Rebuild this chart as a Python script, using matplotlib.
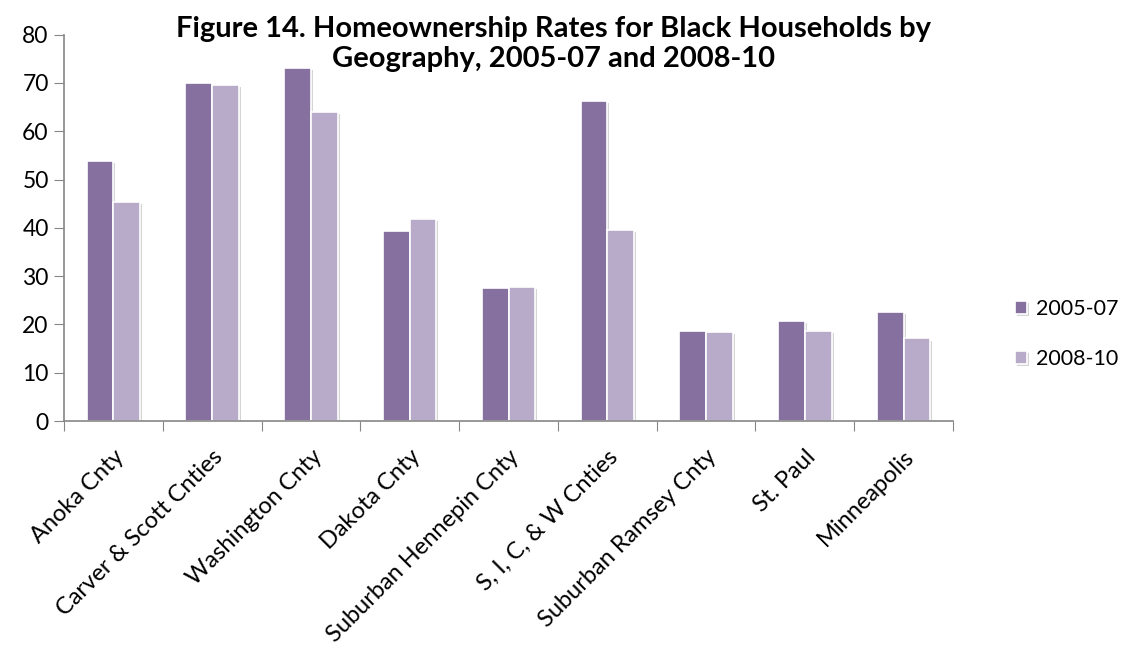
import numpy as np
import matplotlib.pyplot as plt
import matplotlib.patheffects as pe

plt.rcParams['font.family'] = ['Lato', 'DejaVu Sans']

categories = ['Anoka Cnty', 'Carver & Scott Cnties', 'Washington Cnty', 'Dakota Cnty',
              'Suburban Hennepin Cnty', 'S, I, C, & W Cnties', 'Suburban Ramsey Cnty',
              'St. Paul', 'Minneapolis']
rate_0507 = [53.8, 70.1, 73.1, 39.3, 27.5, 66.3, 18.7, 20.8, 22.6]
rate_0810 = [45.3, 69.6, 64.0, 41.8, 27.7, 39.6, 18.4, 18.7, 17.1]
series_names = ['2005-07', '2008-10']

dark = '#8570A0'
light = '#B8AAC9'
axcol = '#868686'

fig = plt.figure(figsize=(11.26, 6.49), dpi=100)
ax = fig.add_axes([64/1126, 1 - 421/649, (953-64)/1126, (421-34.7)/649])

x = np.arange(len(categories))
w = 0.27
shadow = [pe.SimplePatchShadow(offset=(1.5, -1.5), shadow_rgbFace='#d0d0d0', alpha=0.9), pe.Normal()]
b1 = ax.bar(x - w/2, rate_0507, w, color=dark, edgecolor='white', linewidth=1.2,
            label=series_names[0], path_effects=shadow)
b2 = ax.bar(x + w/2, rate_0810, w, color=light, edgecolor='white', linewidth=1.2,
            label=series_names[1], path_effects=shadow)

ax.set_xlim(-0.5, len(categories) - 0.5)
ax.set_ylim(0, 80)
ax.set_yticks(range(0, 81, 10))
ax.set_xticks(np.arange(-0.5, len(categories), 1.0), minor=False)
ax.set_xticklabels([])
ax.set_xticks(x, minor=True)
ax.set_xticklabels(categories, minor=True, rotation=45, ha='right', rotation_mode='anchor',
                   fontsize=17)
ax.tick_params(axis='x', which='minor', length=0, pad=18)
ax.tick_params(axis='x', which='major', length=7, color=axcol, direction='out')
ax.tick_params(axis='y', length=7, color=axcol, direction='out', labelsize=16.5, pad=4)

for s in ['top', 'right']:
    ax.spines[s].set_visible(False)
for s in ['left', 'bottom']:
    ax.spines[s].set_color(axcol)
    ax.spines[s].set_linewidth(1.2)

fig.text(553/1126, 1 - 44/649, 'Figure 14. Homeownership Rates for Black Households by\nGeography, 2005-07 and 2008-10',
         ha='center', va='center', fontsize=21, fontweight='bold', linespacing=1.15)

ax.legend(handles=[b1, b2], loc='upper left', bbox_to_anchor=(1015/1126, 1 - 299/649),
          bbox_transform=fig.transFigure, frameon=False, borderpad=0, borderaxespad=0,
          fontsize=15.5, handlelength=0.56, handleheight=0.56, labelspacing=1.4,
          handletextpad=0.4)

fig.savefig('out.png', dpi=100)
